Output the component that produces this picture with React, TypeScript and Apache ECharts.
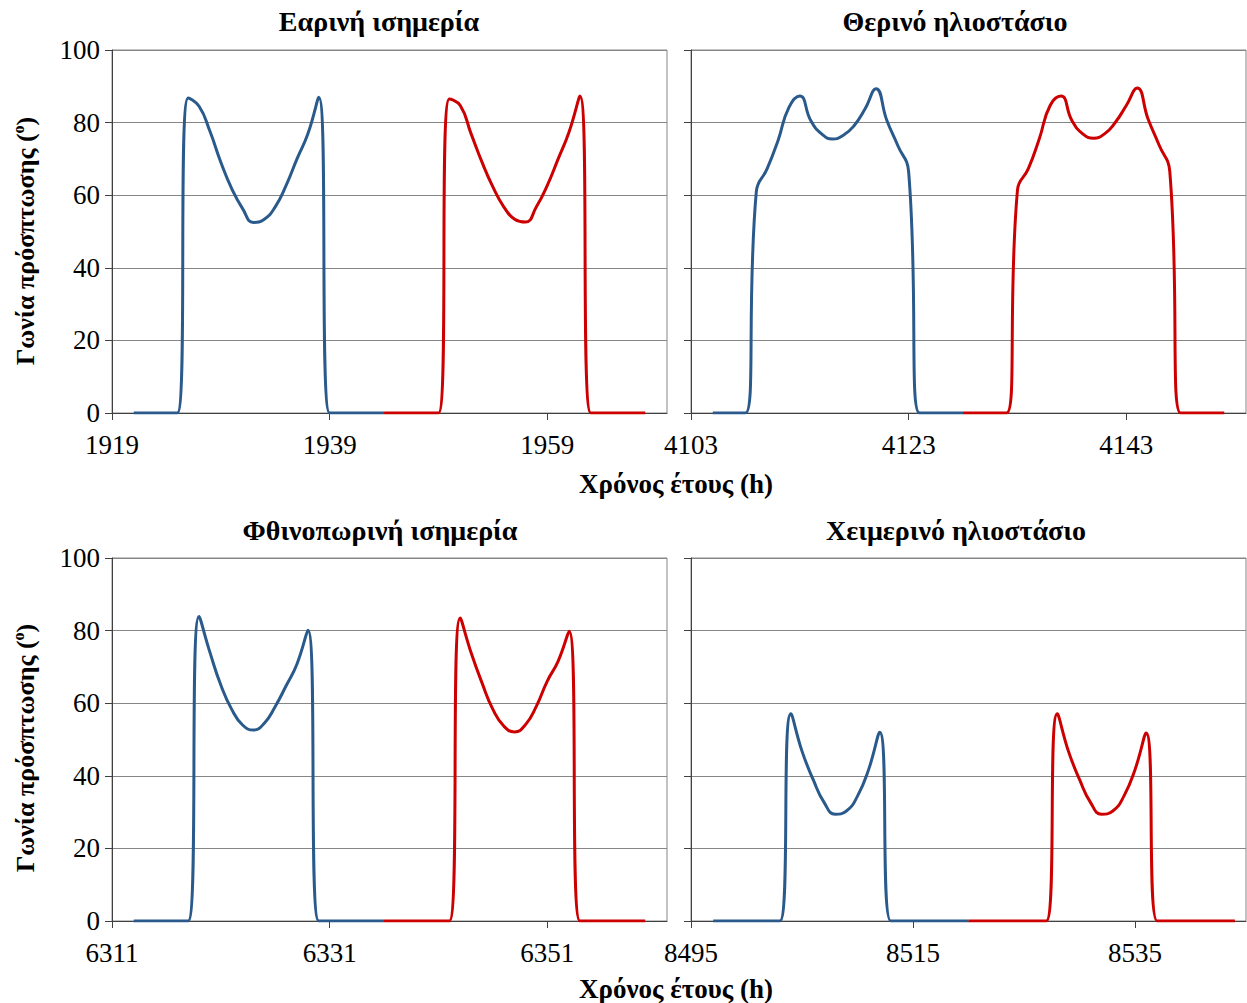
import React, { useEffect, useRef } from 'react';
import * as echarts from 'echarts';

// ---- data ----
const panelTitles = ['Εαρινή ισημερία', 'Θερινό ηλιοστάσιο', 'Φθινοπωρινή ισημερία', 'Χειμερινό ηλιοστάσιο'];
const startHours = [1919, 4103, 6311, 8495];
const axisSpans = [51, 51, 51, 50];
const tickOffsets = [0, 20, 40];
const blueFirstOffset = 2;
const redFirstOffset = 25;

const springBlue = [0, 0, 0, 0, 0, 86.8, 84.5, 77.6, 69.1, 61.8, 56.3, 52.5, 53.4, 56.8, 62.7, 70, 76.9, 87, 0, 0, 0, 0, 0, 0];
const springRed = [0, 0, 0, 0, 0, 0, 86.5, 84.7, 76.9, 69.1, 62.3, 56.8, 53.4, 52.6, 56.8, 62.7, 70, 77.4, 87.3, 0, 0, 0, 0, 0, 0];
const summerBlue = [0, 0, 0, 0, 60.9, 67.3, 75.1, 84.2, 87.3, 80.6, 76.9, 75.5, 76.5, 79.2, 83.8, 89.3, 80.6, 73.7, 66.4, 0, 0, 0, 0, 0];
const summerRed = [0, 0, 0, 0, 0, 61.4, 67.3, 75.5, 84.7, 87.3, 80.6, 76.9, 75.7, 76.9, 80.1, 84.7, 89.5, 81, 73.9, 66.4, 0, 0, 0, 0, 0];
const autumnBlue = [0, 0, 0, 0, 0, 0, 83.9, 74, 65, 58.3, 54, 52.6, 54.5, 59.1, 64.8, 70.8, 80.1, 0, 0, 0, 0, 0, 0, 0];
const autumnRed = [0, 0, 0, 0, 0, 0, 0, 83.5, 73.9, 65.6, 58.3, 53.7, 52.1, 54.1, 59.2, 66.1, 71.6, 79.8, 0, 0, 0, 0, 0, 0, 0];
const winterBlue = [0, 0, 0, 0, 0, 0, 0, 57.1, 46.8, 39, 32.6, 29.4, 30.3, 34.4, 41.7, 52, 0, 0, 0, 0, 0, 0, 0, 0];
const winterRed = [0, 0, 0, 0, 0, 0, 0, 0, 57.1, 46.8, 39, 32.6, 29.4, 30.3, 34.4, 41.7, 51.8, 0, 0, 0, 0, 0, 0, 0, 0];

const blueSeries = [springBlue, summerBlue, autumnBlue, winterBlue];
const redSeries = [springRed, summerRed, autumnRed, winterRed];

const yAxisTitle = 'Γωνία πρόσπτωσης';
const xAxisTitle = 'Χρόνος έτους (h)';

// ---- style ----
const FONT = "'Liberation Serif', 'Times New Roman', serif";
const BLUE = '#2A5A8C';
const RED = '#CC0000';
const AXIS = '#404040';
const GRIDC = '#868686';

const gridBoxes = [
  { left: 112, top: 50, width: 555, height: 363 },
  { left: 691, top: 50, width: 555, height: 363 },
  { left: 112, top: 558, width: 555, height: 363 },
  { left: 691, top: 558, width: 555, height: 363 },
];
const titleCenters = [
  [379, 21],
  [955, 21],
  [380, 530],
  [956, 530],
];

export default function App() {
  const ref = useRef<HTMLDivElement>(null);
  useEffect(() => {
    if (!ref.current) return;
    const chart = echarts.init(ref.current, null, { renderer: 'svg' });

    const grid = gridBoxes.map((g) => ({
      ...g,
      show: true,
      borderColor: GRIDC,
      borderWidth: 1,
      backgroundColor: 'transparent',
      containLabel: false,
    }));

    const xAxis = startHours.map((s, i) => {
      const ticks = tickOffsets.map((o) => s + o);
      return {
        type: 'value',
        gridIndex: i,
        min: s,
        max: s + axisSpans[i],
        axisLine: { show: true, onZero: false, lineStyle: { color: AXIS, width: 1 } },
        axisTick: { show: true, customValues: ticks, length: 7, lineStyle: { color: AXIS } },
        axisLabel: {
          show: true,
          customValues: ticks,
          fontFamily: FONT,
          fontSize: 27,
          color: '#000',
          margin: 18,
          formatter: (v: number) => String(v),
        },
        splitLine: { show: false },
      };
    });

    const yAxis = startHours.map((_, i) => ({
      type: 'value',
      gridIndex: i,
      min: 0,
      max: 100,
      interval: 20,
      axisLine: { show: true, lineStyle: { color: AXIS, width: 1 } },
      axisTick: { show: true, length: 7, lineStyle: { color: AXIS } },
      axisLabel: {
        show: i % 2 === 0,
        fontFamily: FONT,
        fontSize: 27,
        color: '#000',
        margin: 12,
      },
      splitLine: { show: true, lineStyle: { color: GRIDC, width: 1 } },
    }));

    const series: any[] = [];
    startHours.forEach((s, i) => {
      series.push({
        type: 'line',
        xAxisIndex: i,
        yAxisIndex: i,
        data: blueSeries[i].map((v, k) => [s + blueFirstOffset + k, v]),
        smooth: 0.5,
        symbol: 'none',
        lineStyle: { color: BLUE, width: 3 },
        itemStyle: { color: BLUE },
        z: 3,
      });
      series.push({
        type: 'line',
        xAxisIndex: i,
        yAxisIndex: i,
        data: redSeries[i].map((v, k) => [s + redFirstOffset + k, v]),
        smooth: 0.5,
        symbol: 'none',
        lineStyle: { color: RED, width: 3 },
        itemStyle: { color: RED },
        z: 4,
      });
    });

    const graphic: any[] = [];
    panelTitles.forEach((t, i) => {
      graphic.push({
        type: 'text',
        x: titleCenters[i][0],
        y: titleCenters[i][1],
        style: {
          text: t,
          fontFamily: FONT,
          fontWeight: 'bold',
          fontSize: 28,
          fill: '#000',
          align: 'center',
          verticalAlign: 'middle',
        },
      });
    });
    [241, 748].forEach((cy) => {
      graphic.push({
        type: 'text',
        x: 25,
        y: cy,
        rotation: Math.PI / 2,
        style: {
          text: `{b|${yAxisTitle} (}{s|o}{b|)}`,
          align: 'center',
          verticalAlign: 'middle',
          rich: {
            b: { fontFamily: FONT, fontWeight: 'bold', fontSize: 26, fill: '#000', color: '#000', lineHeight: 29 },
            s: { fontFamily: FONT, fontWeight: 'bold', fontSize: 16, fill: '#000', color: '#000', verticalAlign: 'top', lineHeight: 29 },
          },
        },
      });
    });
    [484, 989].forEach((cy) => {
      graphic.push({
        type: 'text',
        x: 676,
        y: cy,
        style: {
          text: xAxisTitle,
          fontFamily: FONT,
          fontWeight: 'bold',
          fontSize: 27,
          fill: '#000',
          align: 'center',
          verticalAlign: 'middle',
        },
      });
    });

    chart.setOption({
      animation: false,
      backgroundColor: '#fff',
      grid,
      xAxis,
      yAxis,
      series,
      graphic,
    });
    return () => chart.dispose();
  }, []);

  return (
    <div
      ref={ref}
      style={{ position: 'absolute', left: 0, top: 0, width: 1247, height: 1003, background: '#fff' }}
    />
  );
}
